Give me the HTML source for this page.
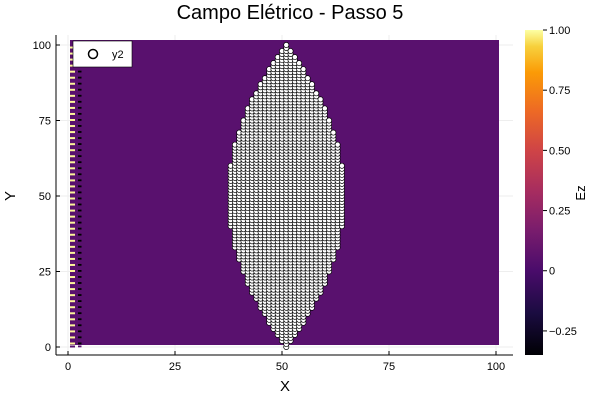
<!DOCTYPE html>
<html><head><meta charset="utf-8"><style>
body{margin:0;background:#fff}
svg text{font-family:"Liberation Sans","DejaVu Sans",sans-serif}
</style></head><body>
<svg id="c" width="600" height="400" xmlns="http://www.w3.org/2000/svg">
<defs>
<linearGradient id="inf" x1="0" y1="1" x2="0" y2="0">
<stop offset="0" stop-color="#000004"/><stop offset="0.13" stop-color="#1b0c41"/>
<stop offset="0.26" stop-color="#4a0c6b"/><stop offset="0.38" stop-color="#781c6d"/>
<stop offset="0.5" stop-color="#a52c60"/><stop offset="0.63" stop-color="#cf4446"/>
<stop offset="0.75" stop-color="#ed6925"/><stop offset="0.87" stop-color="#fb9b06"/>
<stop offset="0.95" stop-color="#f7d13d"/><stop offset="1" stop-color="#fcffa4"/>
</linearGradient>
</defs>
<text x="290" y="19" font-size="20" text-anchor="middle">Campo Elétrico - Passo 5</text>
<g id="grid"></g>
<rect x="70" y="40" width="429" height="305" fill="#59116e"/>
<g id="edge"></g>
<g id="pts"></g>
<line x1="56" y1="355" x2="513" y2="355" stroke="#000"/>
<line x1="56" y1="35" x2="56" y2="355" stroke="#000"/>
<g id="ticks" font-size="11"></g>
<text x="285" y="391" font-size="15" text-anchor="middle">X</text>
<text x="15" y="196" font-size="15" text-anchor="middle" transform="rotate(-90 15 196)">Y</text>
<g>
<rect x="73" y="41" width="59" height="26" fill="#fff" stroke="#000" stroke-width="0.6"/>
<circle cx="93" cy="54" r="4.5" fill="#fff" stroke="#000" stroke-width="1.5"/>
<text x="112" y="58" font-size="11">y2</text>
</g>
<rect x="525" y="30" width="18" height="325" fill="url(#inf)"/>
<g id="cb" font-size="11"></g>
<text x="585" y="193" font-size="13" text-anchor="middle" transform="rotate(-90 585 193)">Ez</text>
</svg>
<script>
const xTicks=[0,25,50,75,100];
const yTicks=[0,25,50,75,100];
const cbTicks=[1.0,0.75,0.5,0.25,0,-0.25];
const cbLabels=["1.00","0.75","0.50","0.25","0","−0.25"];
const cbMin=-0.35, cbMax=1.0;
const lensCenterX=51, lensHalfWidth=13.6, yMin=0, yMax=100;
const NS="http://www.w3.org/2000/svg";
const X=v=>68+v*4.28, Y=v=>347-v*3.02, CB=v=>355-(v-cbMin)/(cbMax-cbMin)*325;
function mk(t,a,p){const e=document.createElementNS(NS,t);for(const k in a)e.setAttribute(k,a[k]);p.appendChild(e);return e;}
const grid=document.getElementById('grid'),tk=document.getElementById('ticks');
xTicks.forEach(v=>{
 const g=mk('line',{x1:X(v),x2:X(v),y1:35,y2:355,stroke:'#eee'},grid);
 
 
 const l=mk('line',{x1:X(v),x2:X(v),y1:355,y2:351,stroke:'#000'},tk);
 
 
 const t=mk('text',{x:X(v),y:370,'text-anchor':'middle'},tk);t.textContent=v;
 
 
});
yTicks.forEach(v=>{
 const g=mk('line',{x1:56,x2:513,y1:Y(v),y2:Y(v),stroke:'#eee'},grid);
 
 
 const l=mk('line',{x1:56,x2:60,y1:Y(v),y2:Y(v),stroke:'#000'},tk);
 
 
 const t=mk('text',{x:51,y:Y(v)+4,'text-anchor':'end'},tk);t.textContent=v;
 
 
});
const cb=document.getElementById('cb');
cbTicks.forEach((v,i)=>{
 const l=mk('line',{x1:543,x2:547,y1:CB(v),y2:CB(v),stroke:'#000'},cb);
 
 
 const t=mk('text',{x:549,y:CB(v)+4},cb);t.textContent=cbLabels[i];
 
 
});
const edge=document.getElementById('edge');
for(let y=yMin;y<=yMax;y++){
 const r=mk('rect',{x:70,y:Y(y)-1.5,width:5,height:2,fill:(y%2?'#fcf59a':'#59116e')},edge);
 
 
 if(y<=95){const b=mk('rect',{x:78,y:Y(y)-1.5,width:3.5,height:1.8,fill:(y%2?'#000':'#59116e')},edge);
 
 }
}
const pts=document.getElementById('pts');
for(let y=yMin;y<=yMax;y++){
 const t=(y-50)/50, hw=lensHalfWidth*(1-t*t);
 for(let x=Math.ceil(lensCenterX-hw);x<=Math.floor(lensCenterX+hw);x++){
  const c=mk('circle',{cx:X(x),cy:Y(y),r:2.6,fill:'#fff',stroke:'#000','stroke-width':0.7},pts);
  
  
 }
}
</script>
</body></html>
